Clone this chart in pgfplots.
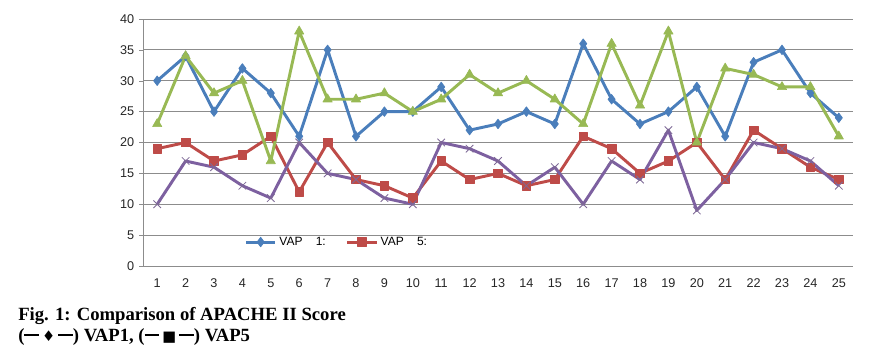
\documentclass[border=0pt]{standalone}
\usepackage{fontspec}
\setmainfont{Liberation Serif}
\newfontfamily\ticksf{Liberation Sans}
\newfontfamily\symf{DejaVu Sans}
\usepackage{pgfplots}
\pgfplotsset{compat=1.18}
\definecolor{cblue}{HTML}{4A7EBB}
\definecolor{cred}{HTML}{BE4B48}
\definecolor{cgreen}{HTML}{98B954}
\definecolor{cpurple}{HTML}{7D60A0}
\definecolor{cgrid}{HTML}{8C8C8C}
\newcommand{\dashpart}{\raisebox{0.3em}{\rule{0.78em}{0.1em}}}
\begin{document}
\begin{tikzpicture}
\path[use as bounding box] (0pt,0pt) rectangle (658.5pt,264.75pt);
\begin{axis}[
  at={(107.25pt,65.25pt)}, anchor=south west,
  scale only axis, width=532.5pt, height=185.25pt,
  xmin=0.5, xmax=25.5, ymin=0, ymax=40,
  xtick={1,...,25}, ytick={0,5,...,40},
  major x tick style={draw=none},
  extra x ticks={0.5,1.5,...,25.5},
  extra x tick labels={},
  extra x tick style={major tick length=4pt, tick align=outside, tick style={draw=cgrid}, grid=none},
  ytick style={draw=cgrid}, major tick length=3pt, tick align=outside,
  ymajorgrids, grid style={draw=cgrid, line width=0.6pt},
  axis x line*=bottom, axis y line*=left,
  axis line style={draw=cgrid, line width=0.6pt, -},
  ticklabel style={font=\ticksf\fontsize{9.5}{11}\selectfont, text=black!85},
  /pgf/number format/assume math mode=true,
  xticklabel style={yshift=-3pt},
  legend style={draw=none, fill=none, at={(0.137,0.097)}, anchor=west,
    font=\ticksf\fontsize{9}{10}\selectfont, legend columns=2,
    /tikz/every even column/.append style={column sep=13pt}},
  legend image code/.code={\draw[#1, mark repeat=2, mark phase=2] plot coordinates {(0pt,0pt) (11pt,0pt) (22pt,0pt)};},
  every axis plot/.append style={line width=2.2pt, line join=round},
]
\addplot[cblue, mark=diamond*, mark size=3.6pt, mark options={solid, line width=0.5pt}] coordinates {
(1,30)(2,34)(3,25)(4,32)(5,28)(6,21)(7,35)(8,21)(9,25)(10,25)(11,29)(12,22)(13,23)(14,25)(15,23)(16,36)(17,27)(18,23)(19,25)(20,29)(21,21)(22,33)(23,35)(24,28)(25,24)};
\addlegendentry{VAP\hspace{1.1em}1:}
\addplot[cred, mark=square*, mark size=3.2pt, mark options={solid, line width=0.5pt}] coordinates {
(1,19)(2,20)(3,17)(4,18)(5,21)(6,12)(7,20)(8,14)(9,13)(10,11)(11,17)(12,14)(13,15)(14,13)(15,14)(16,21)(17,19)(18,15)(19,17)(20,20)(21,14)(22,22)(23,19)(24,16)(25,14)};
\addlegendentry{VAP\hspace{1.1em}5:}
\addplot[cgreen, mark=triangle*, mark size=4pt, mark options={solid, line width=0.5pt}, forget plot] coordinates {
(1,23)(2,34)(3,28)(4,30)(5,17)(6,38)(7,27)(8,27)(9,28)(10,25)(11,27)(12,31)(13,28)(14,30)(15,27)(16,23)(17,36)(18,26)(19,38)(20,20)(21,32)(22,31)(23,29)(24,29)(25,21)};
\addplot[cpurple, mark=x, mark size=4pt, mark options={solid, line width=0.6pt, draw=cpurple!70!gray}, forget plot] coordinates {
(1,10)(2,17)(3,16)(4,13)(5,11)(6,20)(7,15)(8,14)(9,11)(10,10)(11,20)(12,19)(13,17)(14,13)(15,16)(16,10)(17,17)(18,14)(19,22)(20,9)(21,14)(22,20)(23,19)(24,17)(25,13)};
\end{axis}
\node[anchor=north west, inner sep=0pt, font=\bfseries\fontsize{14}{16}\selectfont, align=left] at (13.5pt,34.5pt)
  {Fig. 1: Comparison of APACHE II Score\\(\dashpart\,{\symf\fontsize{11}{11}\selectfont ♦}\,\dashpart) VAP1, (\dashpart\,{\symf\fontsize{11}{11}\selectfont ■}\,\dashpart) VAP5};
\end{tikzpicture}
\end{document}
